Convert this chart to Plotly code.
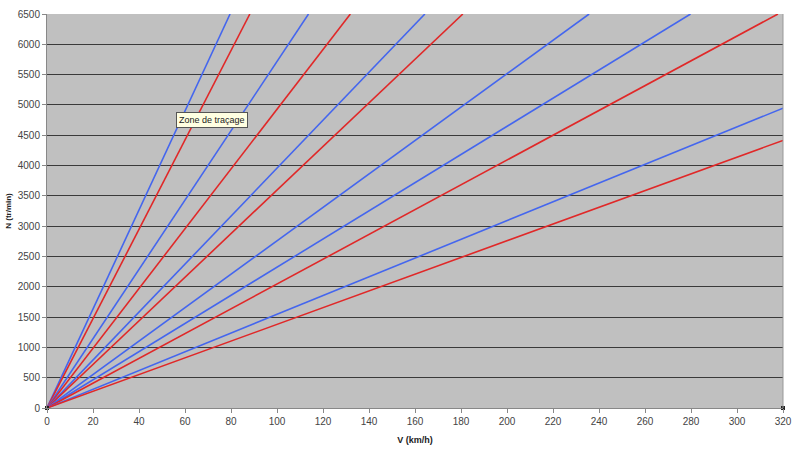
import plotly.graph_objects as go

# Each gear line: from origin to an end point (V km/h, N tr/min)
blue_end_v = [79.6, 113.7, 164.3, 235.7, 279.8, 320]
blue_end_n = [6500, 6500, 6500, 6500, 6500, 4946]
red_end_v = [88.2, 131.9, 180.8, 317.8, 320]
red_end_n = [6500, 6500, 6500, 6500, 4415]

x_ticks = list(range(0, 321, 20))
y_ticks = list(range(0, 6501, 500))

BLUE = "#4466EE"
RED = "#E02828"

fig = go.Figure()
order = [("b", 0), ("r", 0), ("b", 1), ("r", 1), ("b", 2), ("r", 2),
         ("b", 3), ("b", 4), ("r", 3), ("b", 5), ("r", 4)]
for c, i in order:
    if c == "b":
        xv, yv, col = blue_end_v[i], blue_end_n[i], BLUE
    else:
        xv, yv, col = red_end_v[i], red_end_n[i], RED
    fig.add_trace(go.Scatter(x=[0, xv], y=[0, yv], mode="lines",
                             line=dict(color=col, width=1.6),
                             showlegend=False, hoverinfo="skip", cliponaxis=True))

# small markers at axis base
fig.add_trace(go.Scatter(x=[0, 320], y=[0, 0], mode="markers",
                         marker=dict(symbol="square", size=4, color="#222222"),
                         showlegend=False, hoverinfo="skip", cliponaxis=False))

fig.update_layout(
    width=800, height=464,
    margin=dict(l=45, r=15, t=8, b=56),
    paper_bgcolor="white",
    plot_bgcolor="#C0C0C0",
    font=dict(family="Arial, Liberation Sans, sans-serif", size=10, color="#333333"),
    xaxis=dict(range=[0, 320], tickvals=x_ticks, showgrid=False, zeroline=False,
               showline=True, linecolor="#888888", linewidth=1,
               ticks="outside", ticklen=4, tickcolor="#888888",
               tickfont=dict(size=10, color="#444444"),
               title=dict(text="<b>V (km/h)</b>", font=dict(size=9, color="#222222"), standoff=10)),
    yaxis=dict(range=[0, 6500], tickvals=y_ticks, showgrid=True, gridcolor="#3A3A3A",
               gridwidth=1, zeroline=False,
               showline=True, linecolor="#888888", linewidth=1,
               ticks="outside", ticklen=4, tickcolor="#888888",
               tickfont=dict(size=10, color="#444444"),
               title=dict(text="<b>N (tr/min)</b>", font=dict(size=8, color="#222222"), standoff=4)),
    shapes=[dict(type="line", xref="paper", yref="paper", x0=1, x1=1, y0=0, y1=1,
                 line=dict(color="#999999", width=1))],
    annotations=[dict(x=176, y=116, xref="paper", yref="paper", text="Zone de traçage",
                      showarrow=False)],
)
# place the tooltip in pixel-like coordinates via paper fractions
ann = fig.layout.annotations[0]
pw, ph = 800 - 45 - 15, 464 - 8 - 56
ann.x = (211 - 45) / pw
ann.y = (408 - 116) / ph
ann.xanchor = "center"
ann.yanchor = "middle"
ann.bgcolor = "#FFFFE1"
ann.bordercolor = "#555555"
ann.borderwidth = 1
ann.borderpad = 2
ann.font = dict(size=9, color="#222222", family="Arial, Liberation Sans, sans-serif")

fig.write_html("out.html")
